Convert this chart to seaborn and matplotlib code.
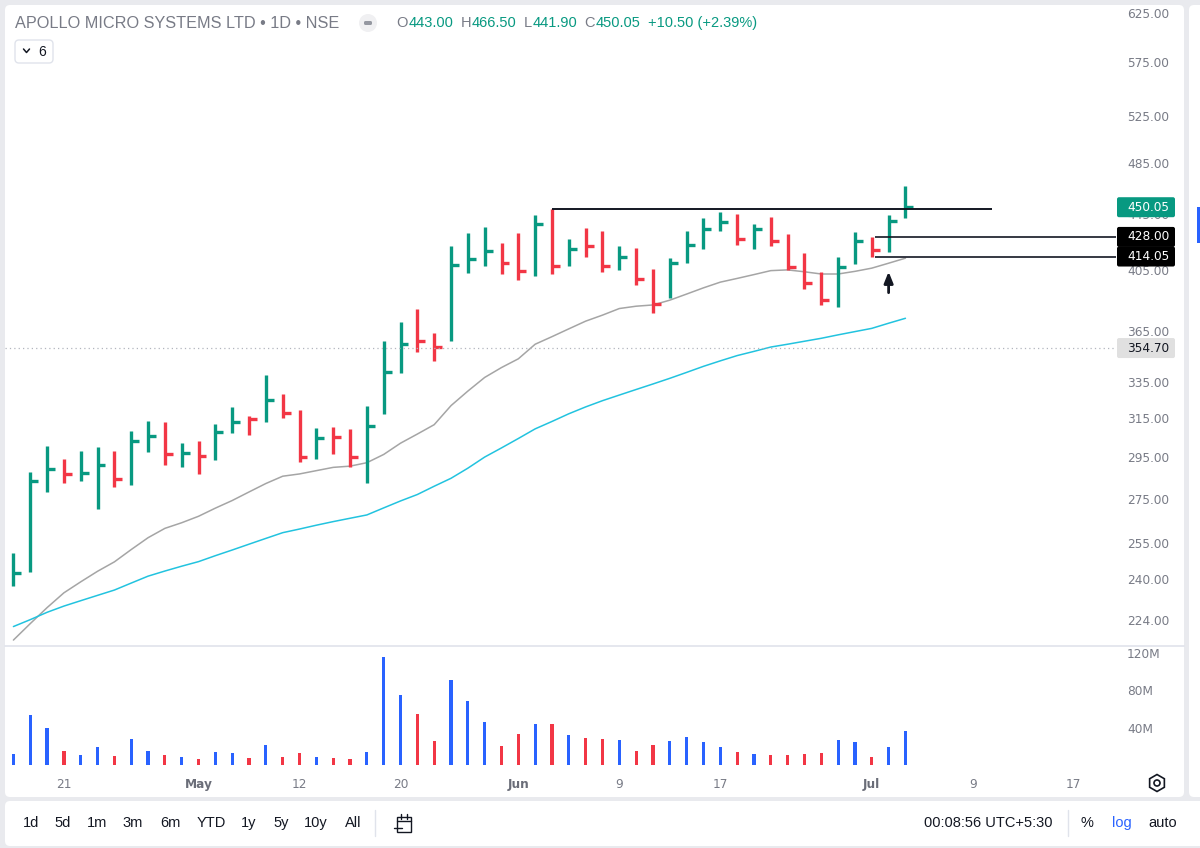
import numpy as np
import pandas as pd
import matplotlib
matplotlib.use("Agg")
import matplotlib.pyplot as plt
import seaborn as sns
from matplotlib.patches import FancyBboxPatch, Rectangle, Circle, RegularPolygon
from matplotlib.lines import Line2D
from matplotlib.ticker import NullLocator, NullFormatter

# ---- data (daily HLC bars, log price scale) ----
highs = [251.0, 287.8, 300.6, 293.9, 297.9, 299.9, 297.9, 308.3, 313.4, 312.9,
         302.1, 303.0, 312.0, 320.9, 316.4, 339.1, 328.2, 319.4, 309.9, 310.4,
         309.2, 321.6, 359.0, 370.7, 379.1, 363.7, 421.5, 430.6, 435.5, 423.8,
         431.1, 444.2, 449.0, 426.5, 434.3, 432.6, 421.5, 420.3, 405.3, 412.9,
         432.6, 441.7, 446.2, 444.7, 437.2, 442.5, 429.9, 416.3, 403.2, 413.6,
         431.4, 428.0, 444.2, 466.5]
lows = [237.3, 242.9, 277.9, 282.5, 283.4, 270.1, 280.6, 281.5, 297.5, 291.2,
        290.0, 286.7, 293.6, 307.3, 306.2, 312.9, 315.0, 292.4, 293.9, 296.5,
        290.0, 282.5, 317.3, 340.2, 352.4, 347.2, 359.2, 402.7, 407.3, 402.0,
        398.0, 400.7, 402.0, 407.3, 414.0, 403.6, 404.8, 394.6, 376.6, 386.3,
        409.4, 419.2, 432.3, 422.0, 419.6, 421.5, 404.8, 391.7, 381.5, 380.4,
        408.7, 414.05, 417.0, 441.9]
closes = [242.4, 283.3, 289.3, 286.7, 287.3, 290.9, 284.1, 303.1, 305.7, 296.4,
          297.2, 295.6, 307.8, 313.0, 314.4, 324.9, 318.0, 295.2, 304.5, 305.4,
          295.2, 311.1, 340.8, 357.2, 359.2, 355.5, 408.2, 412.3, 418.2, 409.8,
          404.3, 437.7, 407.5, 419.6, 421.5, 407.5, 413.6, 398.8, 382.0, 409.4,
          422.2, 434.0, 439.2, 426.3, 433.6, 425.1, 407.0, 395.8, 384.8, 407.0,
          425.1, 418.7, 439.55, 450.05]
direction = "uuuduuduud" "uduududdud" "duuudduuud" "dududduddu" "uuududdddu" "uduu"
volume_m = [11.5, 54, 40, 15.4, 10.4, 19.3, 9.3, 27.9, 15.4, 10.4,
            8.2, 6.4, 14.3, 13.2, 7.5, 21.4, 8.2, 12.5, 8.2, 7.2,
            6.4, 14.3, 115.5, 74.7, 54.3, 25.7, 91.2, 68.6, 46.1, 20.4,
            32.9, 44, 44, 31.8, 28.6, 27.9, 26.8, 15.4, 21.4, 25.7,
            29.7, 24.7, 19.3, 14.3, 11.5, 10.4, 10.4, 11.5, 13.2, 26.8,
            24.7, 8.2, 19.3, 36.8]
ma_fast = [216.5, 222.6, 228.7, 234.5, 238.9, 243.2, 247.1, 252.3, 257.4, 261.5,
           264.0, 266.9, 270.6, 274.1, 278.1, 282.1, 285.6, 286.7, 288.3, 289.9,
           290.5, 292.2, 296.3, 302.0, 306.7, 311.6, 321.8, 329.8, 337.5, 343.2,
           348.3, 357.0, 361.6, 366.4, 371.2, 375.0, 379.2, 380.7, 381.5, 384.6,
           388.6, 392.7, 396.5, 399.0, 401.6, 404.3, 404.8, 403.5, 402.0, 402.0,
           403.8, 406.0, 409.4, 412.9]
ma_slow = [221.5, 224.1, 226.9, 229.3, 231.4, 233.5, 235.6, 238.4, 241.2, 243.3,
           245.3, 247.2, 249.7, 252.1, 254.6, 257.1, 259.6, 261.2, 262.9, 264.5,
           266.0, 267.5, 270.7, 273.9, 276.9, 280.8, 284.6, 289.5, 295.0, 299.6,
           304.4, 309.4, 313.3, 317.4, 321.1, 324.5, 327.6, 330.7, 333.8, 337.0,
           340.4, 343.9, 347.1, 350.2, 352.7, 355.3, 357.0, 358.8, 360.6, 362.7,
           364.7, 366.7, 369.9, 373.0]

price_ticks = [224, 240, 255, 275, 295, 315, 335, 365, 405, 445, 485, 525, 575, 625]
vol_ticks = [40, 80, 120]
date_pos = [3, 11, 17, 23, 30, 36, 42, 51, 57, 63]
date_labels = ["21", "May", "12", "20", "Jun", "9", "17", "Jul", "9", "17"]
months = {"May", "Jun", "Jul"}

resistance = 449.0          # drawn from the bar 32 high
box_high, box_low = 428.00, 414.05
ref_level = 354.70
last_close = 450.05

UP, DOWN = "#089981", "#f23645"
VOL_UP, VOL_DOWN = "#2962ff", "#f23645"
GRAY_TXT = "#787b86"

sns.set_theme(style="white")
plt.rcParams["font.family"] = ["Liberation Sans", "DejaVu Sans"]

W, H = 1200, 848
fig = plt.figure(figsize=(W / 100, H / 100), dpi=100, facecolor="#e9eaee")


def box(x0, y0, x1, y1):
    return [x0 / W, 1 - y1 / H, (x1 - x0) / W, (y1 - y0) / H]


def P(x, y):
    return x / 100, (H - y) / 100


def panel(x0, y0, x1, y1, r=0.05, **kw):
    p = FancyBboxPatch(P(x0, y1), (x1 - x0) / 100, (y1 - y0) / 100,
                       boxstyle=f"round,pad=0,rounding_size={r}",
                       transform=fig.dpi_scale_trans, **kw)
    fig.patches.append(p)
    return p


def ftext(x, y, s, **kw):
    return fig.text(*P(x, y), s, transform=fig.dpi_scale_trans, **kw)


def fline(xs, ys, **kw):
    fig.add_artist(Line2D([x / 100 for x in xs], [(H - y) / 100 for y in ys],
                          transform=fig.dpi_scale_trans, **kw))


# white panels behind the chart and toolbar
panel(5, 5, 1184, 797, facecolor="white", edgecolor="none", zorder=-5)
panel(1189, 5, 1215, 797, facecolor="white", edgecolor="none", zorder=-5)
panel(5, 801, 1215, 846, facecolor="white", edgecolor="none", zorder=-5)
fig.patches.append(Rectangle(P(1197, 243), 4 / 100, 36 / 100, transform=fig.dpi_scale_trans,
                             facecolor="#2962ff", edgecolor="none", zorder=-4))

idx = np.arange(len(closes))
bar_colors = [UP if d == "u" else DOWN for d in direction]
vol_colors = [VOL_UP if d == "u" else VOL_DOWN for d in direction]
xmin, xmax = -0.5, 65.51

# ---- price pane ----
ax = fig.add_axes(box(5, 6, 1116, 645))
ax.set_facecolor("none")
ax.set_yscale("log")

ma_df = pd.DataFrame({"bar": idx, "ma_fast": ma_fast, "ma_slow": ma_slow})
sns.lineplot(data=ma_df, x="bar", y="ma_fast", ax=ax, color="#a5a5a5", lw=1.1)
sns.lineplot(data=ma_df, x="bar", y="ma_slow", ax=ax, color="#22c3df", lw=1.1)

ax.vlines(idx, lows, highs, colors=bar_colors, lw=2.4)
ax.hlines(closes, idx, idx + 0.47, colors=bar_colors, lw=2.4)

ax.hlines(resistance, 32, 58.15, color="#131722", lw=1.4)
ax.hlines([box_high, box_low], 51.2, xmax, color="#131722", lw=1.2)
ax.axhline(ref_level, color="#b2b5be", lw=0.9, ls=(0, (1, 2.5)))
ax.annotate("", xy=(52, 403.6), xytext=(52, 389.5),
            arrowprops=dict(arrowstyle="-|>,head_width=0.22,head_length=0.55",
                            color="#131722", lw=2.0, shrinkA=0, shrinkB=0))

ax.set_xlim(xmin, xmax)
ax.set_ylim(214.7, 632.4)
ax.set_yticks(price_ticks)
ax.set_yticklabels([f"{v:.2f}" for v in price_ticks], family="DejaVu Sans")
ax.yaxis.set_minor_locator(NullLocator())
ax.yaxis.set_minor_formatter(NullFormatter())
ax.yaxis.tick_right()
ax.tick_params(axis="y", length=0, pad=8, labelsize=8.7, labelcolor=GRAY_TXT)
ax.set_xticks([])
ax.set_xlabel("")
ax.set_ylabel("")
ax.grid(False)
for s in ax.spines.values():
    s.set_visible(False)

# ---- volume pane ----
axv = fig.add_axes(box(5, 646, 1116, 768))
axv.set_facecolor("none")
axv.bar(idx, volume_m, width=0.19, color=vol_colors, linewidth=0)
axv.set_xlim(xmin, xmax)
axv.set_ylim(-3.2, 127.6)
axv.set_yticks(vol_ticks)
axv.set_yticklabels([f"{v}M" for v in vol_ticks], family="DejaVu Sans")
axv.yaxis.tick_right()
axv.tick_params(axis="y", length=0, pad=8, labelsize=8.7, labelcolor=GRAY_TXT)
axv.set_xticks(date_pos)
axv.set_xticklabels(date_labels, family="DejaVu Sans")
axv.tick_params(axis="x", length=0, pad=7, labelsize=8.7, labelcolor=GRAY_TXT)
for lbl in axv.get_xticklabels():
    if lbl.get_text() in months:
        lbl.set_fontweight("bold")
        lbl.set_color("#6a6d78")
axv.grid(False)
for s in axv.spines.values():
    s.set_visible(False)

fline([5, 1184], [645.5, 645.5], color="#e0e3eb", lw=1.2)


# ---- price scale tags ----
def tag(value, text, bg, fg):
    yc = H - ax.transData.transform((0, value))[1]
    fig.patches.append(FancyBboxPatch(P(1117, yc + 10), 58 / 100, 20 / 100,
                                      boxstyle="round,pad=0,rounding_size=0.02",
                                      transform=fig.dpi_scale_trans,
                                      facecolor=bg, edgecolor="none", zorder=5))
    ftext(1127, yc, text, color=fg, fontsize=8.7, family="DejaVu Sans",
          va="center", ha="left", zorder=6)


tag(last_close, f"{last_close:.2f}", UP, "white")
tag(box_high, f"{box_high:.2f}", "#000000", "white")
tag(box_low, f"{box_low:.2f}", "#000000", "white")
tag(ref_level, f"{ref_level:.2f}", "#e0e0e0", "#131722")

# ---- legend header ----
ftext(15, 23, "APOLLO MICRO SYSTEMS LTD • 1D • NSE", color=GRAY_TXT,
      fontsize=11.7, va="center")
fig.patches.append(Circle(P(368, 23), 9 / 100, transform=fig.dpi_scale_trans,
                          facecolor="#f0f0f2", edgecolor="none"))
fig.patches.append(FancyBboxPatch(P(364, 25), 8 / 100, 4 / 100,
                                  boxstyle="round,pad=0,rounding_size=0.015",
                                  transform=fig.dpi_scale_trans,
                                  facecolor="#9598a1", edgecolor="none"))

# OHLC values laid out one after the other
renderer = fig.canvas.get_renderer()
pieces = [("O", GRAY_TXT, 1), ("443.00", UP, 7), ("H", GRAY_TXT, 1), ("466.50", UP, 7),
          ("L", GRAY_TXT, 1), ("441.90", UP, 7), ("C", GRAY_TXT, 1), ("450.05", UP, 7),
          ("+10.50 (+2.39%)", UP, 0)]
x = 396
for s, c, gap in pieces:
    t = ftext(x, 23, s, color=c, fontsize=10.5, va="center")
    x += t.get_window_extent(renderer).width + gap

panel(15, 40, 53, 63, r=0.04, facecolor="white", edgecolor="#e0e3eb", lw=1)
fline([23.5, 26.5, 29.5], [49, 52.5, 49], color="#131722", lw=1.1)
ftext(38, 51.5, "6", color="#131722", fontsize=10, va="center")

# settings icon
fig.patches.append(RegularPolygon(P(1157, 783), 6, radius=8.5 / 100, orientation=0,
                                  transform=fig.dpi_scale_trans, facecolor="none",
                                  edgecolor="#131722", lw=1.2))
fig.patches.append(Circle(P(1157, 783), 3 / 100, transform=fig.dpi_scale_trans,
                          facecolor="none", edgecolor="#131722", lw=1.2))

# ---- bottom toolbar ----
ranges = [("1d", 31), ("5d", 63), ("1m", 97), ("3m", 133), ("6m", 170),
          ("YTD", 211), ("1y", 249), ("5y", 281), ("10y", 316), ("All", 353)]
for s, xp in ranges:
    ftext(xp, 823, s, color="#131722", fontsize=10.5, ha="center", va="center")
fline([375, 375], [810, 836], color="#e0e3eb", lw=1)
fig.patches.append(Rectangle(P(397, 832), 14 / 100, 15 / 100, transform=fig.dpi_scale_trans,
                             facecolor="none", edgecolor="#131722", lw=1))
fline([397, 411], [821, 821], color="#131722", lw=1)
fline([401, 401], [814, 819], color="#131722", lw=1)
fline([407, 407], [814, 819], color="#131722", lw=1)
fline([394, 402], [828, 828], color="#131722", lw=1)
ftext(988, 823, "00:08:56 UTC+5:30", color="#131722", fontsize=10.5, ha="center", va="center")
fline([1068, 1068], [810, 836], color="#e0e3eb", lw=1)
ftext(1087, 823, "%", color="#131722", fontsize=10.5, ha="center", va="center")
ftext(1122, 823, "log", color="#2962ff", fontsize=10.5, ha="center", va="center")
ftext(1163, 823, "auto", color="#131722", fontsize=10.5, ha="center", va="center")

fig.savefig("out.png", dpi=100, facecolor=fig.get_facecolor())
